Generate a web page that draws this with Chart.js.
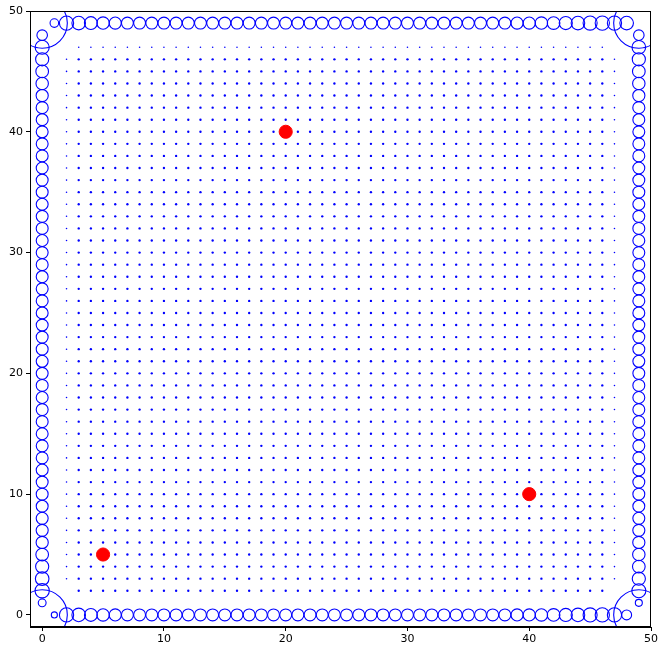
<!DOCTYPE html>
<html>
<head>
<meta charset="utf-8">
<script src="https://cdn.jsdelivr.net/npm/chart.js@4/dist/chart.umd.min.js"></script>
<style>html,body{margin:0;padding:0;background:#fff;}canvas{display:block;}</style>
</head>
<body>
<canvas id="c" width="664" height="653"></canvas>
<script>
// ---- data ----
const xTicks = [0, 10, 20, 30, 40, 50];
const yTicks = [0, 10, 20, 30, 40, 50];

// interior lattice columns / rows
const interiorCols = [2,3,4,5,6,7,8,9,10,11,12,13,14,15,16,17,18,19,20,21,22,23,24,25,26,27,28,29,30,31,32,33,34,35,36,37,38,39,40,41,42,43,44,45,46,47];
const interiorRows = [2,3,4,5,6,7,8,9,10,11,12,13,14,15,16,17,18,19,20,21,22,23,24,25,26,27,28,29,30,31,32,33,34,35,36,37,38,39,40,41,42,43,44,45,46,47];
const interiorSmallCols = [2, 47];
const interiorSmallRows = [47];
const interiorMissing = [[2,2],[47,2],[2,47],[47,47]];
const interiorWeight = 4.5;
const interiorSmallWeight = 2;

// boundary positions (index 1..48 along each side)
const sidePositions = [1,2,3,4,5,6,7,8,9,10,11,12,13,14,15,16,17,18,19,20,21,22,23,24,25,26,27,28,29,30,31,32,33,34,35,36,37,38,39,40,41,42,43,44,45,46,47,48];
// marker weights (matplotlib-like s values) for each side, positions 1..48
const leftWeights   = [50,165,150,140,130,120,118,116,115,115,115,115,115,115,115,115,115,115,115,115,115,115,115,115,115,115,115,115,115,115,115,115,115,115,115,115,115,115,115,115,115,118,120,125,130,140,160,90];
const rightWeights  = [40,160,140,130,125,120,118,116,115,115,115,115,115,115,115,115,115,115,115,115,115,115,115,115,115,115,115,115,115,115,115,115,115,115,115,115,115,115,115,115,115,118,120,125,130,140,150,90];
const bottomWeights = [30,165,150,135,125,118,115,115,115,115,115,115,115,115,115,115,115,115,115,115,115,115,115,115,115,115,115,115,115,115,115,115,115,115,115,115,115,115,118,120,125,130,140,150,160,165,165,80];
const topWeights    = [60,165,150,135,125,118,115,115,115,115,115,115,115,115,115,115,115,115,115,115,115,115,115,115,115,115,115,115,115,115,115,115,115,115,115,115,115,115,118,120,125,130,140,150,160,165,165,150];

// corner circles
const cornerX = [0, 0, 49, 49];
const cornerY = [0, 49, 0, 49];
const cornerWeight = 2050;

// highlighted points
const redX = [5, 20, 40];
const redY = [5, 40, 10];
const redWeight = 140;

// ---- build datasets ----
const wToR = w => Math.sqrt(w) / 2 * 80 / 72;

const interiorPts = [], interiorR = [];
for (const y of interiorRows) {
  for (const x of interiorCols) {
    if (interiorMissing.some(m => m[0] === x && m[1] === y)) continue;
    interiorPts.push({x, y});
    const small = interiorSmallCols.includes(x) || interiorSmallRows.includes(y);
    interiorR.push(wToR(small ? interiorSmallWeight : interiorWeight));
  }
}

const boundaryPts = [], boundaryR = [];
sidePositions.forEach((p, i) => {
  boundaryPts.push({x: 0, y: p});  boundaryR.push(wToR(leftWeights[i]));
  boundaryPts.push({x: 49, y: p}); boundaryR.push(wToR(rightWeights[i]));
  boundaryPts.push({x: p, y: 0});  boundaryR.push(wToR(bottomWeights[i]));
  boundaryPts.push({x: p, y: 49}); boundaryR.push(wToR(topWeights[i]));
});

const cornerPts = cornerX.map((x, i) => ({x, y: cornerY[i]}));
const redPts = redX.map((x, i) => ({x, y: redY[i]}));

const framePlugin = {
  id: 'frame',
  afterDraw(chart) {
    const {ctx, chartArea: a} = chart;
    ctx.save();
    ctx.strokeStyle = '#000';
    ctx.lineWidth = 1;
    ctx.strokeRect(Math.round(a.left) + 0.5, Math.round(a.top) + 0.5, Math.round(a.right - a.left) - 1, Math.round(a.bottom - a.top) - 1);
    ctx.restore();
  }
};

const zeroPad = s => { s.paddingTop = 0; s.paddingBottom = 0; s.paddingLeft = 0; s.paddingRight = 0; };

const tickFont = {family: 'DejaVu Sans', size: 11};

new Chart(document.getElementById('c'), {
  type: 'scatter',
  data: {
    datasets: [
      {order: 3, data: boundaryPts, pointRadius: boundaryR, pointBackgroundColor: 'rgba(0,0,0,0)', pointBorderColor: '#0000ff', pointBorderWidth: 1.1},
      {order: 2, data: interiorPts, pointRadius: interiorR, pointBackgroundColor: '#0000ff', pointBorderColor: '#0000ff', pointBorderWidth: 0},
      {order: 1, data: cornerPts, pointRadius: wToR(cornerWeight), pointBackgroundColor: 'rgba(0,0,0,0)', pointBorderColor: '#0000ff', pointBorderWidth: 1.1},
      {order: 0, data: redPts, pointRadius: wToR(redWeight), pointBackgroundColor: '#ff0000', pointBorderColor: '#ff0000', pointBorderWidth: 1}
    ]
  },
  options: {
    responsive: false,
    animation: false,
    events: [],
    layout: {autoPadding: false, padding: {top: 11, right: 13, left: 0, bottom: 0}},
    plugins: {legend: {display: false}, tooltip: {enabled: false}},
    elements: {point: {hoverRadius: 0}},
    scales: {
      x: {
        type: 'linear', min: -1, max: 50,
        afterBuildTicks: s => { s.ticks = xTicks.map(v => ({value: v})); },
        afterFit: s => { s.height = 26; zeroPad(s); },
        grid: {display: true, drawOnChartArea: false, drawTicks: true, tickLength: 4, color: '#000'},
        border: {display: true, color: '#000'},
        ticks: {color: '#000', font: tickFont, padding: 2, maxRotation: 0}
      },
      y: {
        type: 'linear', min: -1, max: 50,
        afterBuildTicks: s => { s.ticks = yTicks.map(v => ({value: v})); },
        afterFit: s => { s.width = 30; zeroPad(s); },
        grid: {display: true, drawOnChartArea: false, drawTicks: true, tickLength: 4, color: '#000'},
        border: {display: true, color: '#000'},
        ticks: {color: '#000', font: tickFont, padding: 3}
      }
    }
  },
  plugins: [framePlugin]
});
</script>
</body>
</html>
